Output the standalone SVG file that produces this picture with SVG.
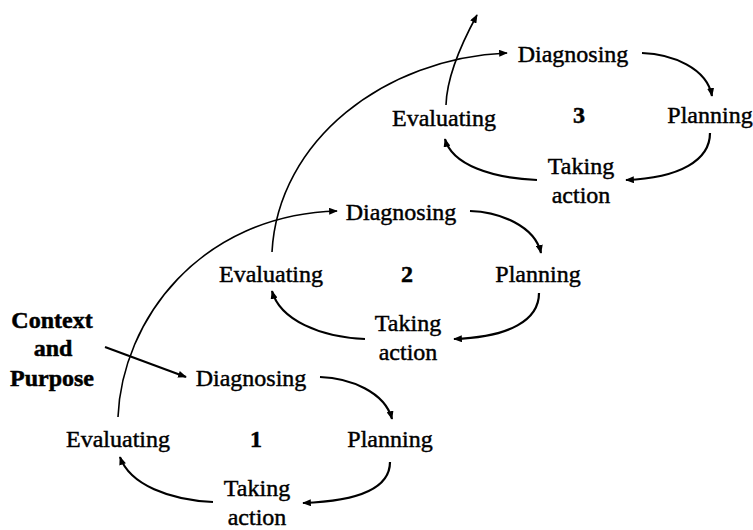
<svg xmlns="http://www.w3.org/2000/svg" width="753" height="530" viewBox="0 0 753 530">
  <defs>
    <marker id="head" viewBox="0 0 10 8" markerWidth="9" markerHeight="7" refX="9" refY="4" orient="auto" markerUnits="userSpaceOnUse">
      <path d="M0,0 L10,4 L0,8 Z" fill="#000"/>
    </marker>
    <style>
      text { font-family: "Liberation Serif", "Times New Roman", serif; font-size: 24px; fill: #000; stroke: #000; stroke-width: 0.45; text-anchor: middle; }
      .num, .ctx { font-weight: bold; stroke-width: 0.5; }
      .cyc { fill: none; stroke: #000; stroke-width: 2.2; marker-end: url(#head); }
      .link { fill: none; stroke: #000; stroke-width: 1.6; marker-end: url(#head); }
    </style>
  </defs>
  <rect width="753" height="530" fill="#fff"/>

  <!-- starting point -->
  <g id="context">
    <text class="ctx" x="52" y="328">Context</text>
    <text class="ctx" x="53" y="356">and</text>
    <text class="ctx" x="52" y="386">Purpose</text>
  </g>

  <!-- cycle 1 -->
  <g id="diagnosing-1"><text x="251" y="386">Diagnosing</text></g>
  <g id="planning-1"><text x="390" y="447">Planning</text></g>
  <g id="taking-action-1"><text x="257" y="496">Taking</text><text x="257" y="525">action</text></g>
  <g id="evaluating-1"><text x="118" y="447">Evaluating</text></g>
  <g id="label-1"><text class="num" x="256" y="447">1</text></g>

  <!-- cycle 2 -->
  <g id="diagnosing-2"><text x="401" y="220">Diagnosing</text></g>
  <g id="planning-2"><text x="538" y="282">Planning</text></g>
  <g id="taking-action-2"><text x="408" y="331">Taking</text><text x="408" y="360">action</text></g>
  <g id="evaluating-2"><text x="271" y="282">Evaluating</text></g>
  <g id="label-2"><text class="num" x="407" y="282">2</text></g>

  <!-- cycle 3 -->
  <g id="diagnosing-3"><text x="573" y="62">Diagnosing</text></g>
  <g id="planning-3"><text x="710" y="123">Planning</text></g>
  <g id="taking-action-3"><text x="581" y="174">Taking</text><text x="581" y="203">action</text></g>
  <g id="evaluating-3"><text x="444" y="126">Evaluating</text></g>
  <g id="label-3"><text class="num" x="579" y="123">3</text></g>

  <g id="connectors">
    <!-- context to first diagnosis -->
    <path class="cyc" d="M105,347 L186,377"/>

    <!-- cycle 1 loop -->
    <path class="cyc" d="M320,377 C350,378 385,392 392,419"/>
    <path class="cyc" d="M390,462 C390,488 360,501 303,503"/>
    <path class="cyc" d="M213,502 C170,500 130,485 120,457"/>

    <!-- cycle 2 loop -->
    <path class="cyc" d="M470,211 C500,212 535,226 541,253"/>
    <path class="cyc" d="M539,293 C539,320 510,337 454,339"/>
    <path class="cyc" d="M365,339 C320,337 280,320 272,291"/>

    <!-- cycle 3 loop -->
    <path class="cyc" d="M642,53 C672,54 707,68 712,96"/>
    <path class="cyc" d="M710,133 C710,160 680,178 626,180"/>
    <path class="cyc" d="M537,180 C492,178 452,165 445,139"/>

    <!-- evaluation feeding the next cycle -->
    <path class="link" d="M118,417 C122,320 200,215 337,211"/>
    <path class="link" d="M272,252 C278,140 385,58 507,53"/>
    <path class="link" d="M446,105 Q447,70 477,15"/>
  </g>
</svg>
